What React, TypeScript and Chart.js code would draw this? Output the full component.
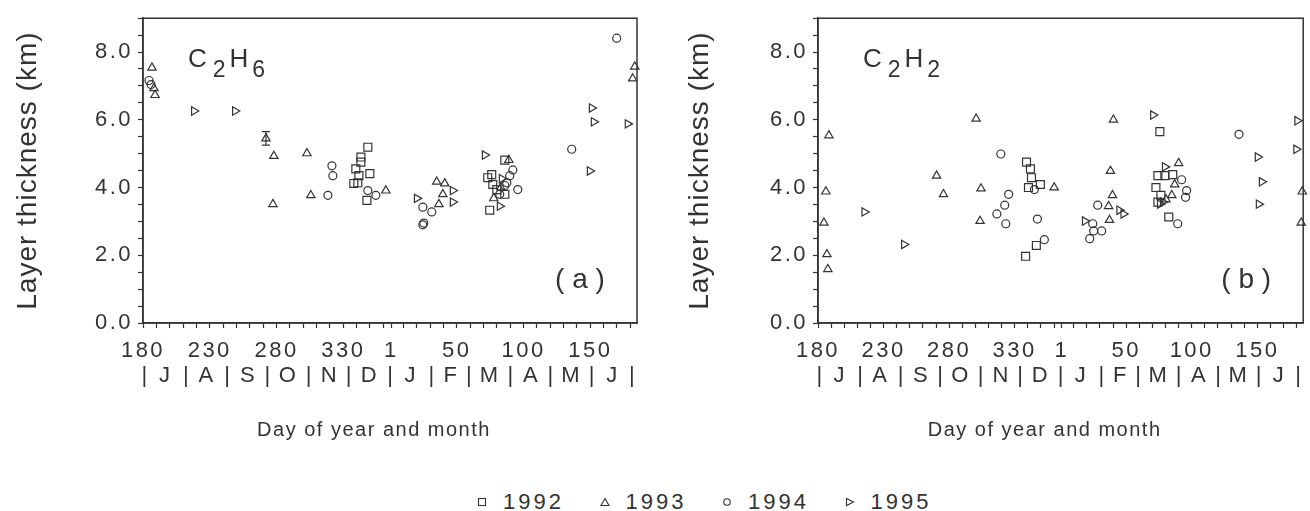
import React, { useEffect, useRef } from 'react';
import { Chart, registerables } from 'chart.js';

Chart.register(...registerables);

const FONT = '"Liberation Sans", Arial, Helvetica, sans-serif';
const INK = '#333333';

// x axis value: day of year; days of the following year continue after 365 (366 = day 1)
const X_MIN = 180;
const X_MAX = 550;
const xTickValues = [180, 190, 200, 210, 220, 230, 240, 250, 260, 270, 280, 290, 300, 310, 320, 330, 340, 350, 360, 366,
  375, 385, 395, 405, 415, 425, 435, 445, 455, 465, 475, 485, 495, 505, 515, 525, 535, 545];
const xMajorValues = [180, 230, 280, 330, 366, 415, 465, 515];
const xMajorLabels = ['180', '230', '280', '330', '1', '50', '100', '150'];

const monthEdgeValues = [182, 213, 244, 274, 305, 335, 366, 397, 425, 456, 486, 517, 547];
const monthMidValues = [197, 228, 259, 289, 320, 350, 381, 411, 440, 471, 501, 532];
const monthLetters = ['J', 'A', 'S', 'O', 'N', 'D', 'J', 'F', 'M', 'A', 'M', 'J'];

const Y_MIN = 0;
const Y_MAX = 9;
const yTickValues = [0, 0.5, 1, 1.5, 2, 2.5, 3, 3.5, 4, 4.5, 5, 5.5, 6, 6.5, 7, 7.5, 8, 8.5, 9];
const yLabelValues = [0, 2, 4, 6, 8];

const yTitle = 'Layer thickness (km)';
const xTitle = 'Day of year and month';
const legendYears = ['1992', '1993', '1994', '1995'];

// ---- Panel (a): C2H6 ----
const aX1992 = [348.4, 343.2, 343.2, 339.4, 341.7, 349.9, 337.9, 340.9, 347.7, 451.0, 441.2, 438.2, 442.0, 445.0, 451.0, 439.7];
const aY1992 = [5.19, 4.90, 4.75, 4.55, 4.35, 4.41, 4.12, 4.14, 3.62, 4.81, 4.38, 4.29, 4.09, 3.94, 3.80, 3.33];
const aX1993 = [186.7, 188.2, 189.0, 272.1, 278.0, 302.8, 277.3, 305.7, 361.9, 400.0, 406.0, 404.6, 401.6, 454.0, 448.0, 442.7, 548.3, 546.8];
const aY1993 = [7.54, 6.93, 6.73, 5.45, 4.93, 5.01, 3.51, 3.77, 3.91, 4.17, 4.12, 3.80, 3.51, 4.81, 4.00, 3.68, 7.57, 7.22];
const aX1994 = [184.5, 186.0, 321.5, 322.2, 318.5, 348.4, 354.4, 389.6, 396.3, 389.6, 390.3, 457.0, 454.7, 452.5, 451.0, 460.7, 447.2, 501.1, 534.8];
const aY1994 = [7.16, 7.04, 4.64, 4.35, 3.77, 3.91, 3.77, 3.42, 3.28, 2.90, 2.95, 4.52, 4.35, 4.14, 4.06, 3.94, 3.80, 5.13, 8.41];
const aX1995 = [218.2, 248.9, 385.1, 412.0, 412.0, 436.0, 447.2, 448.7, 516.1, 517.6, 514.6, 543.0];
const aY1995 = [6.26, 6.26, 3.68, 3.91, 3.57, 4.96, 3.45, 4.26, 6.35, 5.94, 4.49, 5.88];
const aErrX = [272.1];
const aErrLo = [5.25];
const aErrHi = [5.65];

// ---- Panel (b): C2H2 ----
const bX1992 = [339.0, 342.0, 342.8, 340.5, 349.6, 346.5, 338.3, 440.7, 439.2, 444.5, 450.5, 437.7, 441.5, 439.2, 447.5];
const bY1992 = [4.75, 4.55, 4.29, 4.00, 4.09, 2.29, 1.97, 5.65, 4.35, 4.35, 4.38, 4.00, 3.77, 3.57, 3.13];
const bX1993 = [188.3, 186.0, 184.5, 186.8, 187.5, 270.4, 275.7, 300.6, 304.3, 303.6, 360.1, 405.3, 403.0, 404.6, 401.6, 402.3, 455.0, 452.0, 449.8, 445.3, 549.3, 548.5];
const bY1993 = [5.54, 3.88, 2.96, 2.03, 1.59, 4.35, 3.80, 6.03, 3.97, 3.01, 4.00, 6.00, 4.49, 3.77, 3.45, 3.04, 4.72, 4.09, 3.77, 3.65, 3.88, 2.96];
const bX1994 = [319.4, 325.4, 322.4, 316.4, 323.2, 345.0, 347.3, 352.6, 393.3, 389.5, 396.3, 390.2, 387.2, 457.3, 461.1, 460.3, 454.3, 501.0];
const bY1994 = [4.99, 3.80, 3.48, 3.22, 2.93, 3.94, 3.07, 2.46, 3.48, 2.93, 2.72, 2.72, 2.49, 4.23, 3.91, 3.71, 2.93, 5.57];
const bX1995 = [215.4, 245.6, 383.5, 409.8, 412.9, 435.5, 444.5, 443.0, 440.7, 515.3, 518.4, 516.1, 545.5, 544.7];
const bY1995 = [3.28, 2.32, 3.01, 3.33, 3.22, 6.14, 4.61, 3.57, 3.51, 4.90, 4.17, 3.51, 5.97, 5.13];

const formulaA = ['C', '2', 'H', '6'];
const formulaB = ['C', '2', 'H', '2'];

const pts = (xs: number[], ys: number[]) => xs.map((x, i) => ({ x, y: ys[i] }));

const monthTicks = [
  ...monthEdgeValues.map((v) => ({ value: v, label: '|' })),
  ...monthMidValues.map((v, i) => ({ value: v, label: monthLetters[i] })),
].sort((p, q) => p.value - q.value);

function makeDatasets(s92: any[], s93: any[], s94: any[], s95: any[]) {
  const common = {
    showLine: false,
    borderColor: INK,
    backgroundColor: 'rgba(0,0,0,0)',
    pointBorderColor: INK,
    pointBackgroundColor: 'rgba(0,0,0,0)',
    pointBorderWidth: 1.2,
    clip: false as any,
    xAxisID: 'x',
    yAxisID: 'y',
  };
  return [
    { ...common, label: legendYears[0], data: s92, pointStyle: 'rect', pointRadius: 5.6, pointHoverRadius: 5.6 },
    { ...common, label: legendYears[1], data: s93, pointStyle: 'triangle', pointRadius: 4.8, pointHoverRadius: 4.8 },
    { ...common, label: legendYears[2], data: s94, pointStyle: 'circle', pointRadius: 4.0, pointHoverRadius: 4.0 },
    { ...common, label: legendYears[3], data: s95, pointStyle: 'triangle', pointRotation: 90, pointRadius: 4.8, pointHoverRadius: 4.8 },
  ];
}

function decorPlugin(formula: string[], tag: string, errX: number[], errLo: number[], errHi: number[]) {
  return {
    id: 'panelDecor',
    beforeDraw(chart: any) {
      chart.ctx.letterSpacing = '1px';
    },
    afterDatasetsDraw(chart: any) {
      chart.ctx.letterSpacing = '2.5px';
    },
    afterDraw(chart: any) {
      const { ctx, chartArea: a, scales } = chart;
      ctx.save();
      ctx.letterSpacing = '0px';
      ctx.strokeStyle = INK;
      ctx.lineWidth = 1.5;
      ctx.strokeRect(a.left, a.top, a.right - a.left, a.bottom - a.top);

      // error bars
      ctx.lineWidth = 1.2;
      errX.forEach((xv, i) => {
        const px = scales.x.getPixelForValue(xv);
        const p1 = scales.y.getPixelForValue(errLo[i]);
        const p2 = scales.y.getPixelForValue(errHi[i]);
        ctx.beginPath();
        ctx.moveTo(px, p1); ctx.lineTo(px, p2);
        ctx.moveTo(px - 4, p1); ctx.lineTo(px + 4, p1);
        ctx.moveTo(px - 4, p2); ctx.lineTo(px + 4, p2);
        ctx.stroke();
      });

      // formula label
      ctx.fillStyle = INK;
      ctx.textAlign = 'left';
      ctx.textBaseline = 'alphabetic';
      let x = a.left + 45;
      const base = a.top + 49;
      formula.forEach((part, i) => {
        const sub = i % 2 === 1;
        ctx.font = `${sub ? 23 : 26}px ${FONT}`;
        ctx.fillText(part, x, sub ? base + 10 : base);
        x += ctx.measureText(part).width + (i === 0 ? 6 : 4);
      });

      // panel tag
      ctx.font = `28px ${FONT}`;
      ctx.textAlign = 'center';
      ctx.textBaseline = 'middle';
      ctx.fillText(tag, a.right - 57, a.top + 262);

      // x axis title
      ctx.font = `20px ${FONT}`;
      ctx.letterSpacing = '1.5px';
      ctx.fillText(xTitle, (a.left + a.right) / 2 - 16, 430);
      ctx.restore();
    },
  };
}

function makeConfig(datasets: any[], padLeft: number, padRight: number, yWidth: number, plugin: any) {
  return {
    type: 'scatter',
    data: { datasets },
    plugins: [plugin],
    options: {
      animation: false,
      responsive: false,
      events: [],
      layout: { padding: { left: padLeft, right: padRight, top: 13, bottom: 0 } },
      plugins: { legend: { display: false }, tooltip: { enabled: false } },
      scales: {
        x: {
          type: 'linear',
          position: 'bottom',
          weight: 0,
          min: X_MIN,
          max: X_MAX,
          afterBuildTicks: (s: any) => { s.ticks = xTickValues.map((v) => ({ value: v })); },
          afterFit: (s: any) => { s.height = 40; },
          ticks: {
            autoSkip: false,
            maxRotation: 0,
            minRotation: 0,
            padding: 10,
            z: 1,
            color: INK,
            font: { family: FONT, size: 22 },
            callback: (v: number) => {
              const i = xMajorValues.indexOf(v);
              return i >= 0 ? xMajorLabels[i] : '';
            },
          },
          grid: { drawOnChartArea: false, drawTicks: true, tickLength: 5, tickColor: INK, tickWidth: 1.2 },
          border: { display: true, color: INK, width: 1.5 },
        },
        x2: {
          type: 'linear',
          axis: 'x',
          position: 'bottom',
          weight: 1,
          min: X_MIN,
          max: X_MAX,
          afterBuildTicks: (s: any) => { s.ticks = monthTicks.map((t) => ({ value: t.value })); },
          afterFit: (s: any) => { s.height = 77; },
          ticks: {
            autoSkip: false,
            maxRotation: 0,
            minRotation: 0,
            padding: 0,
            z: 1,
            color: INK,
            font: { family: FONT, size: 22 },
            callback: (v: number) => {
              const t = monthTicks.find((m) => m.value === v);
              return t ? t.label : '';
            },
          },
          grid: { display: false, drawOnChartArea: false, drawTicks: false },
          border: { display: false },
        },
        y: {
          type: 'linear',
          position: 'left',
          min: Y_MIN,
          max: Y_MAX,
          afterBuildTicks: (s: any) => { s.ticks = yTickValues.map((v) => ({ value: v })); },
          afterFit: (s: any) => { s.width = yWidth; },
          ticks: {
            autoSkip: false,
            padding: 5,
            z: 1,
            color: INK,
            font: { family: FONT, size: 22 },
            callback: (v: number) => (yLabelValues.includes(v) ? v.toFixed(1) : ''),
          },
          grid: { drawOnChartArea: false, drawTicks: true, tickLength: 5, tickColor: INK, tickWidth: 1.2 },
          border: { display: true, color: INK, width: 1.5 },
          title: { display: true, text: yTitle, color: INK, font: { family: FONT, size: 28 }, padding: { top: 11, bottom: 0 } },
        },
      },
    },
  } as any;
}

function LegendMarker({ kind }: { kind: number }) {
  const st = { fill: 'none', stroke: INK, strokeWidth: 1.1 };
  return (
    <svg width={10} height={10} style={{ marginRight: 16, flex: 'none' }}>
      {kind === 0 && <rect x={1.5} y={1.5} width={7} height={7} {...st} />}
      {kind === 1 && <polygon points="5,1.5 9,8.5 1,8.5" {...st} />}
      {kind === 2 && <circle cx={5} cy={5} r={3.3} {...st} />}
      {kind === 3 && <polygon points="1.5,1.5 8.5,5 1.5,8.5" {...st} />}
    </svg>
  );
}

export default function App() {
  const refA = useRef<HTMLCanvasElement>(null);
  const refB = useRef<HTMLCanvasElement>(null);

  useEffect(() => {
    const chartA = new Chart(
      refA.current as HTMLCanvasElement,
      makeConfig(
        makeDatasets(pts(aX1992, aY1992), pts(aX1993, aY1993), pts(aX1994, aY1994), pts(aX1995, aY1995)),
        0, 18, 143,
        decorPlugin(formulaA, '( a )', aErrX, aErrLo, aErrHi),
      ),
    );
    const chartB = new Chart(
      refB.current as HTMLCanvasElement,
      makeConfig(
        makeDatasets(pts(bX1992, bY1992), pts(bX1993, bY1993), pts(bX1994, bY1994), pts(bX1995, bY1995)),
        17, 1, 146,
        decorPlugin(formulaB, '( b )', [], [], []),
      ),
    );
    return () => {
      chartA.destroy();
      chartB.destroy();
    };
  }, []);

  return (
    <div style={{ position: 'fixed', left: 0, top: 0, width: 1310, height: 511, background: '#fff', overflow: 'hidden' }}>
      <canvas ref={refA} width={655} height={440} style={{ position: 'absolute', left: 0, top: 0, width: 655, height: 440 }} />
      <canvas ref={refB} width={655} height={440} style={{ position: 'absolute', left: 655, top: 0, width: 655, height: 440 }} />
      <div
        style={{
          position: 'absolute', left: 477, top: 489, height: 26, display: 'flex', alignItems: 'center',
          fontFamily: FONT, fontSize: 22, letterSpacing: '3px', color: INK,
        }}
      >
        {legendYears.map((yr, i) => (
          <div key={yr} style={{ display: 'flex', alignItems: 'center', width: 122.5 }}>
            <LegendMarker kind={i} />
            <span>{yr}</span>
          </div>
        ))}
      </div>
    </div>
  );
}
